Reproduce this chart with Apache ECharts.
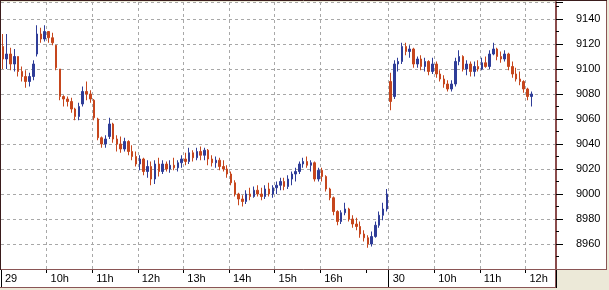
<!DOCTYPE html>
<html><head><meta charset="utf-8">
<script src="https://cdn.jsdelivr.net/npm/echarts@6/dist/echarts.min.js"></script>
<style>html,body{margin:0;padding:0;background:#ECE9D8}#c{width:609px;height:290px}</style>
</head><body><div id="c"></div>
<script>
// sessions (5-minute bars starting at 09:00)
const sessionDays = ['29', '30'];
const sessionSlots = [102, 44];

const opens = [
9118,9108,9112,9104,9110,9098,9094,9090,9094,9112,
9128,9124,9130,9125,9119,9100,9078,9076,9074,9068,
9062,9072,9082,9080,9075,9060,9045,9040,9046,9056,
9044,9040,9036,9042,9034,9030,9024,9028,9018,9022,
9012,9024,9018,9024,9020,9023,9021,9025,9028,9026,
9033,9029,9034,9031,9035,9028,9025,9027,9022,9020,
9016,9009,9000,8996,8994,9000,8998,9003,9000,8998,
9004,9000,9005,9007,9010,9006,9012,9016,9018,9024,
9026,9023,9025,9012,9019,9014,9004,8997,8986,8978,
8985,8988,8980,8976,8974,8968,8965,8960,8966,8975,
8983,8988,
9090,9078,9104,9106,9118,9114,9116,9104,
9108,9102,9106,9098,9104,9096,9092,9088,9084,9088,
9106,9110,9100,9104,9098,9102,9100,9105,9102,9112,
9116,9110,9108,9112,9102,9096,9092,9090,9084,9078];
const closes = [
9108,9112,9104,9110,9098,9094,9090,9094,9104,9128,
9124,9130,9125,9121,9101,9078,9076,9074,9068,9062,
9070,9082,9080,9076,9061,9045,9040,9044,9056,9044,
9040,9036,9042,9034,9030,9024,9028,9018,9022,9012,
9024,9018,9024,9020,9023,9021,9025,9028,9026,9033,
9029,9034,9031,9035,9028,9025,9027,9022,9020,9016,
9009,9000,8996,8994,9000,8998,9003,9000,8998,9004,
9000,9005,9007,9010,9006,9012,9016,9018,9024,9026,
9023,9025,9012,9019,9014,9004,8997,8986,8978,8985,
8988,8980,8976,8974,8968,8965,8960,8966,8975,8983,
8988,9000,
9074,9104,9106,9118,9114,9116,9104,9108,
9102,9106,9098,9104,9096,9092,9088,9084,9088,9106,
9110,9100,9104,9098,9102,9100,9105,9102,9112,9116,
9110,9108,9112,9102,9096,9092,9090,9084,9078,9080];
const highs = [
9128,9128,9117,9116,9110,9102,9099,9097,9107,9135,
9133,9135,9130,9129,9119,9100,9079,9078,9077,9069,
9073,9086,9090,9083,9076,9061,9046,9047,9061,9057,
9047,9046,9045,9043,9039,9034,9031,9029,9027,9026,
9027,9029,9027,9026,9027,9029,9027,9031,9033,9037,
9035,9037,9038,9037,9036,9031,9030,9029,9027,9023,
9018,9011,9001,8999,9003,9005,9006,9007,9005,9007,
9009,9007,9010,9013,9013,9015,9018,9021,9026,9029,
9030,9027,9026,9021,9021,9015,9005,8998,8987,8987,
8993,8989,8983,8981,8978,8971,8967,8970,8978,8986,
8993,9004,
9097,9107,9109,9121,9121,9119,9117,9110,
9111,9109,9107,9109,9106,9099,9095,9091,9091,9109,
9115,9111,9107,9106,9106,9107,9109,9110,9115,9121,
9117,9114,9115,9113,9106,9101,9098,9091,9085,9082];
const lows = [
9100,9100,9099,9098,9094,9090,9085,9086,9091,9110,
9121,9122,9121,9119,9099,9075,9070,9070,9065,9059,
9059,9070,9075,9073,9059,9043,9037,9037,9044,9041,
9034,9033,9034,9031,9027,9022,9019,9015,9013,9007,
9008,9014,9016,9018,9017,9019,9018,9021,9023,9024,
9026,9027,9027,9027,9023,9022,9021,9019,9018,9013,
9007,8998,8991,8990,8992,8995,8997,8998,8995,8996,
8998,8997,9000,9003,9003,9004,9007,9010,9016,9021,
9021,9018,9010,9010,9010,9002,8995,8983,8975,8976,
8983,8978,8973,8971,8965,8962,8957,8958,8965,8973,
8979,8986,
9067,9076,9098,9104,9111,9109,9101,9101,
9099,9098,9095,9096,9093,9090,9085,9082,9082,9086,
9103,9098,9095,9094,9094,9098,9099,9101,9100,9111,
9107,9105,9106,9099,9093,9090,9087,9081,9075,9070];

// x-axis tick labels (category index -> text)
const xLabelIdx = [0, 12, 24, 36, 48, 60, 72, 84, 102, 114, 126, 138];
const xLabelText = ['29', '10h', '11h', '12h', '13h', '14h', '15h', '16h', '30', '10h', '11h', '12h'];
const xTickIdx = [12, 24, 36, 48, 60, 72, 84, 96, 114, 126, 138];
const xGridIdx = [12, 24, 36, 48, 60, 72, 84, 102, 114, 126, 138];
const xDayIdx = [0, 102];

// y axis
const yMin = 8940, yMax = 9153.6, yStep = 20;

// build categories
const categories = [];
sessionDays.forEach((d, s) => {
  for (let k = 0; k < sessionSlots[s]; k++) {
    const m = 540 + 5 * k;
    const hh = String(Math.floor(m / 60)).padStart(2, '0');
    const mm = String(m % 60).padStart(2, '0');
    categories.push(d + ' ' + hh + ':' + mm);
  }
});
const ohlc = opens.map((o, i) => [o, closes[i], lows[i], highs[i]]);

const FONT = 'Liberation Sans';
const dash = { color: '#a8a8a8', type: [3, 3], width: 1 };
const chart = echarts.init(document.getElementById('c'), null, { renderer: 'canvas' });
chart.setOption({
  animation: false,
  backgroundColor: '#ECE9D8',
  grid: { left: 1, right: 53, top: 2, bottom: 21, show: true, backgroundColor: '#ffffff', borderWidth: 0 },
  graphic: [
    { type: 'rect', z: -1, shape: { x: 556, y: 0, width: 51, height: 270 }, style: { fill: '#ffffff' } },
    { type: 'rect', z: -1, shape: { x: 0, y: 269, width: 556, height: 19 }, style: { fill: '#ffffff' } },
    { type: 'line', z: 100, shape: { x1: 0, y1: 269.5, x2: 607, y2: 269.5 }, style: { stroke: '#8a5555', lineWidth: 1 } },
    { type: 'line', z: 100, shape: { x1: 0, y1: 287.5, x2: 556, y2: 287.5 }, style: { stroke: '#8a5555', lineWidth: 1 } },
    { type: 'line', z: 100, shape: { x1: 555.5, y1: 269, x2: 555.5, y2: 288 }, style: { stroke: '#8a5555', lineWidth: 1 } },
    { type: 'line', z: 100, shape: { x1: 606.5, y1: 0, x2: 606.5, y2: 270 }, style: { stroke: '#8a5555', lineWidth: 1 } },
    { type: 'line', z: 100, shape: { x1: 0, y1: 0.5, x2: 607, y2: 0.5 }, style: { stroke: '#3a1c1c', lineWidth: 1 } },
    { type: 'line', z: 100, shape: { x1: 0.5, y1: 0, x2: 0.5, y2: 270 }, style: { stroke: '#3a1c1c', lineWidth: 1 } }
  ],
  xAxis: [{
    type: 'category', data: categories, boundaryGap: true, position: 'bottom',
    axisLine: { show: false },
    axisTick: { show: true, length: 4, interval: (i) => xTickIdx.includes(i), lineStyle: { color: '#000' } },
    axisLabel: {
      show: true, interval: (i) => xLabelIdx.includes(i),
      formatter: (v, i) => { const k = xLabelIdx.indexOf(i); return k >= 0 ? xLabelText[k] : ''; },
      align: 'left', padding: [0, 0, 0, 2], margin: 4, fontSize: 11, fontFamily: FONT, color: '#000'
    },
    splitLine: { show: true, interval: (i) => xGridIdx.includes(i), lineStyle: dash }
  }, {
    type: 'category', data: categories, boundaryGap: true, position: 'bottom', offset: 0,
    axisLine: { show: false }, axisLabel: { show: false }, splitLine: { show: false },
    axisTick: { show: true, length: 19, interval: (i) => xDayIdx.includes(i), lineStyle: { color: '#000', width: 1 } }
  }],
  yAxis: {
    type: 'value', position: 'right', min: yMin, max: yMax, interval: yStep, scale: true,
    axisLine: { show: true, lineStyle: { color: '#8a4c4c', width: 2 } },
    axisTick: { show: true, length: 7, lineStyle: { color: '#000' } },
    minorTick: { show: true, splitNumber: 2, length: 3, lineStyle: { color: '#000' } },
    axisLabel: {
      margin: 20, fontSize: 11, fontFamily: FONT, color: '#000',
      formatter: (v) => (v % yStep === 0 && v > yMin) ? String(v) : ''
    },
    splitLine: { show: true, lineStyle: dash }
  },
  series: [{
    type: 'candlestick', data: ohlc, barWidth: 2,
    itemStyle: { color: '#2f3d98', color0: '#c6461d', borderColor: '#2f3d98', borderColor0: '#c6461d', borderWidth: 1 }
  }]
});
</script></body></html>
